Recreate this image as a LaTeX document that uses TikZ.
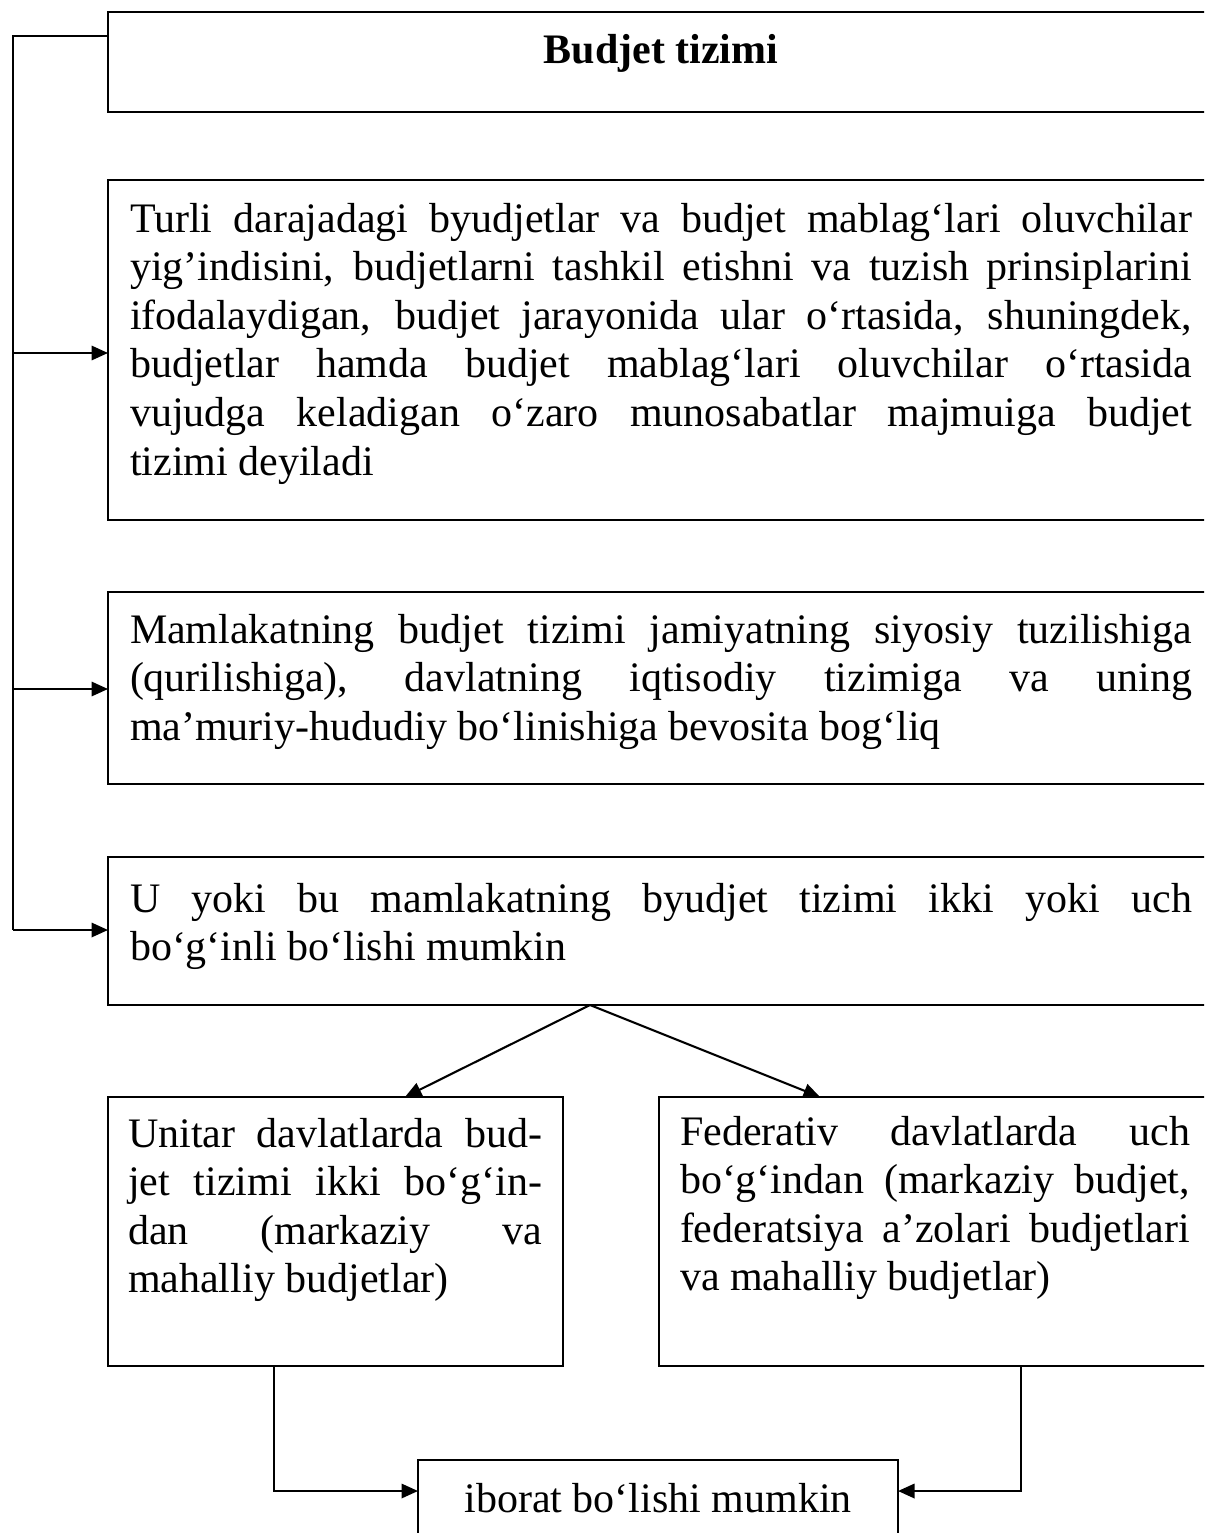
\documentclass[tikz,border=0pt]{standalone}
\usepackage{fontspec}
\setmainfont{Liberation Serif}
\usetikzlibrary{arrows.meta,calc}
\newcommand\nohyph{\hyphenpenalty=10000\relax\exhyphenpenalty=10000\relax\tolerance=10000\relax}
\begin{document}
\begin{tikzpicture}[x=0.333333pt,y=-0.333333pt,
  boxn/.style={draw, line width=0.7pt, rectangle, inner sep=0pt, outer sep=0pt, anchor=north west},
  txt/.style={inner sep=0pt, outer sep=0pt, anchor=north west, align=justify,
    font=\fontsize{14}{16.2}\selectfont\nohyph},
  ctxt/.style={inner sep=0pt, outer sep=0pt, anchor=base, font=\fontsize{14}{16.2}\selectfont},
  conn/.style={line width=0.7pt},
  arr/.style={conn, -{Triangle[length=5.5pt,width=4.8pt]}}]
\path[use as bounding box] (0,0) rectangle (1204,1533);
\clip (0,0) rectangle (1204,1533);
% boxes
\node[boxn, minimum width=368.7pt, minimum height=33.33pt] (b1) at (108,12) {};
\node[boxn, minimum width=368.7pt, minimum height=113.33pt] (b2) at (108,180) {};
\node[boxn, minimum width=368.7pt, minimum height=64pt] (b3) at (108,592) {};
\node[boxn, minimum width=368.7pt, minimum height=49.33pt] (b4) at (108,857) {};
\node[boxn, minimum width=151.67pt, minimum height=89.67pt] (b5) at (108,1097) {};
\node[boxn, minimum width=185pt, minimum height=89.67pt] (b6) at (659,1097) {};
\node[boxn, minimum width=160pt, minimum height=40pt] (b7) at (418,1460) {};
% texts
\node[ctxt, font=\fontsize{14}{16.2}\selectfont\bfseries] (t1) at (661,64) {Budjet tizimi};
\node[txt, text width=354pt] (t2) at (130,198) {\strut Turli darajadagi byudjetlar va budjet mablag‘lari oluvchilar\linebreak
yig’indisini, budjetlarni tashkil etishni va tuzish prinsiplarini\linebreak
ifodalaydigan, budjet jarayonida ular o‘rtasida, shuningdek,\linebreak
budjetlar hamda budjet mablag‘lari oluvchilar o‘rtasida\linebreak
vujudga keladigan o‘zaro munosabatlar majmuiga budjet\linebreak
tizimi deyiladi};
\node[txt, text width=354pt] (t3) at (130,609) {\strut Mamlakatning budjet tizimi jamiyatning siyosiy tuzilishiga\linebreak
(qurilishiga), davlatning iqtisodiy tizimiga va uning\linebreak
ma’muriy-hududiy bo‘linishiga bevosita bog‘liq};
\node[txt, text width=354pt] (t4) at (130,878) {\strut U yoki bu mamlakatning byudjet tizimi ikki yoki uch\linebreak
bo‘g‘inli bo‘lishi mumkin};
\node[txt, text width=138pt] (t5) at (128,1113) {\strut Unitar davlatlarda bud-\linebreak
jet tizimi ikki bo‘g‘in-\linebreak
dan (markaziy va\linebreak
mahalliy budjetlar)};
\node[txt, text width=170pt] (t6) at (680,1111) {\strut Federativ davlatlarda uch\linebreak
bo‘g‘indan (markaziy budjet,\linebreak
federatsiya a’zolari budjetlari\linebreak
va mahalliy budjetlar)};
\node[ctxt] (t7) at (658,1512) {iborat bo‘lishi mumkin};
% left connector
\coordinate (Ltop) at (13,36);
\coordinate (Lbot) at (13,930);
\coordinate (a2) at (13,353);
\coordinate (a3) at (13,689);
\draw[conn] (b1.west |- Ltop) -- (Ltop) -- (Lbot);
\draw[arr] (Lbot) -- (Lbot -| b4.west);
\draw[arr] (a2) -- (a2 -| b2.west);
\draw[arr] (a3) -- (a3 -| b3.west);
% split
\coordinate (apex) at ($(b4.south west)+(482,0)$);
\draw[arr] (apex) -- ($(b5.north west)+(297,0)$);
\draw[arr] (apex) -- ($(b6.north west)+(161,0)$);
% bottom
\coordinate (m7l) at ($(b7.north west)+(0,31)$);
\coordinate (m7r) at ($(b7.north east)+(0,31)$);
\draw[arr] ($(b5.south west)+(166,0)$) |- (m7l);
\draw[arr] ($(b6.south west)+(362,0)$) |- (m7r);
\end{tikzpicture}
\end{document}
